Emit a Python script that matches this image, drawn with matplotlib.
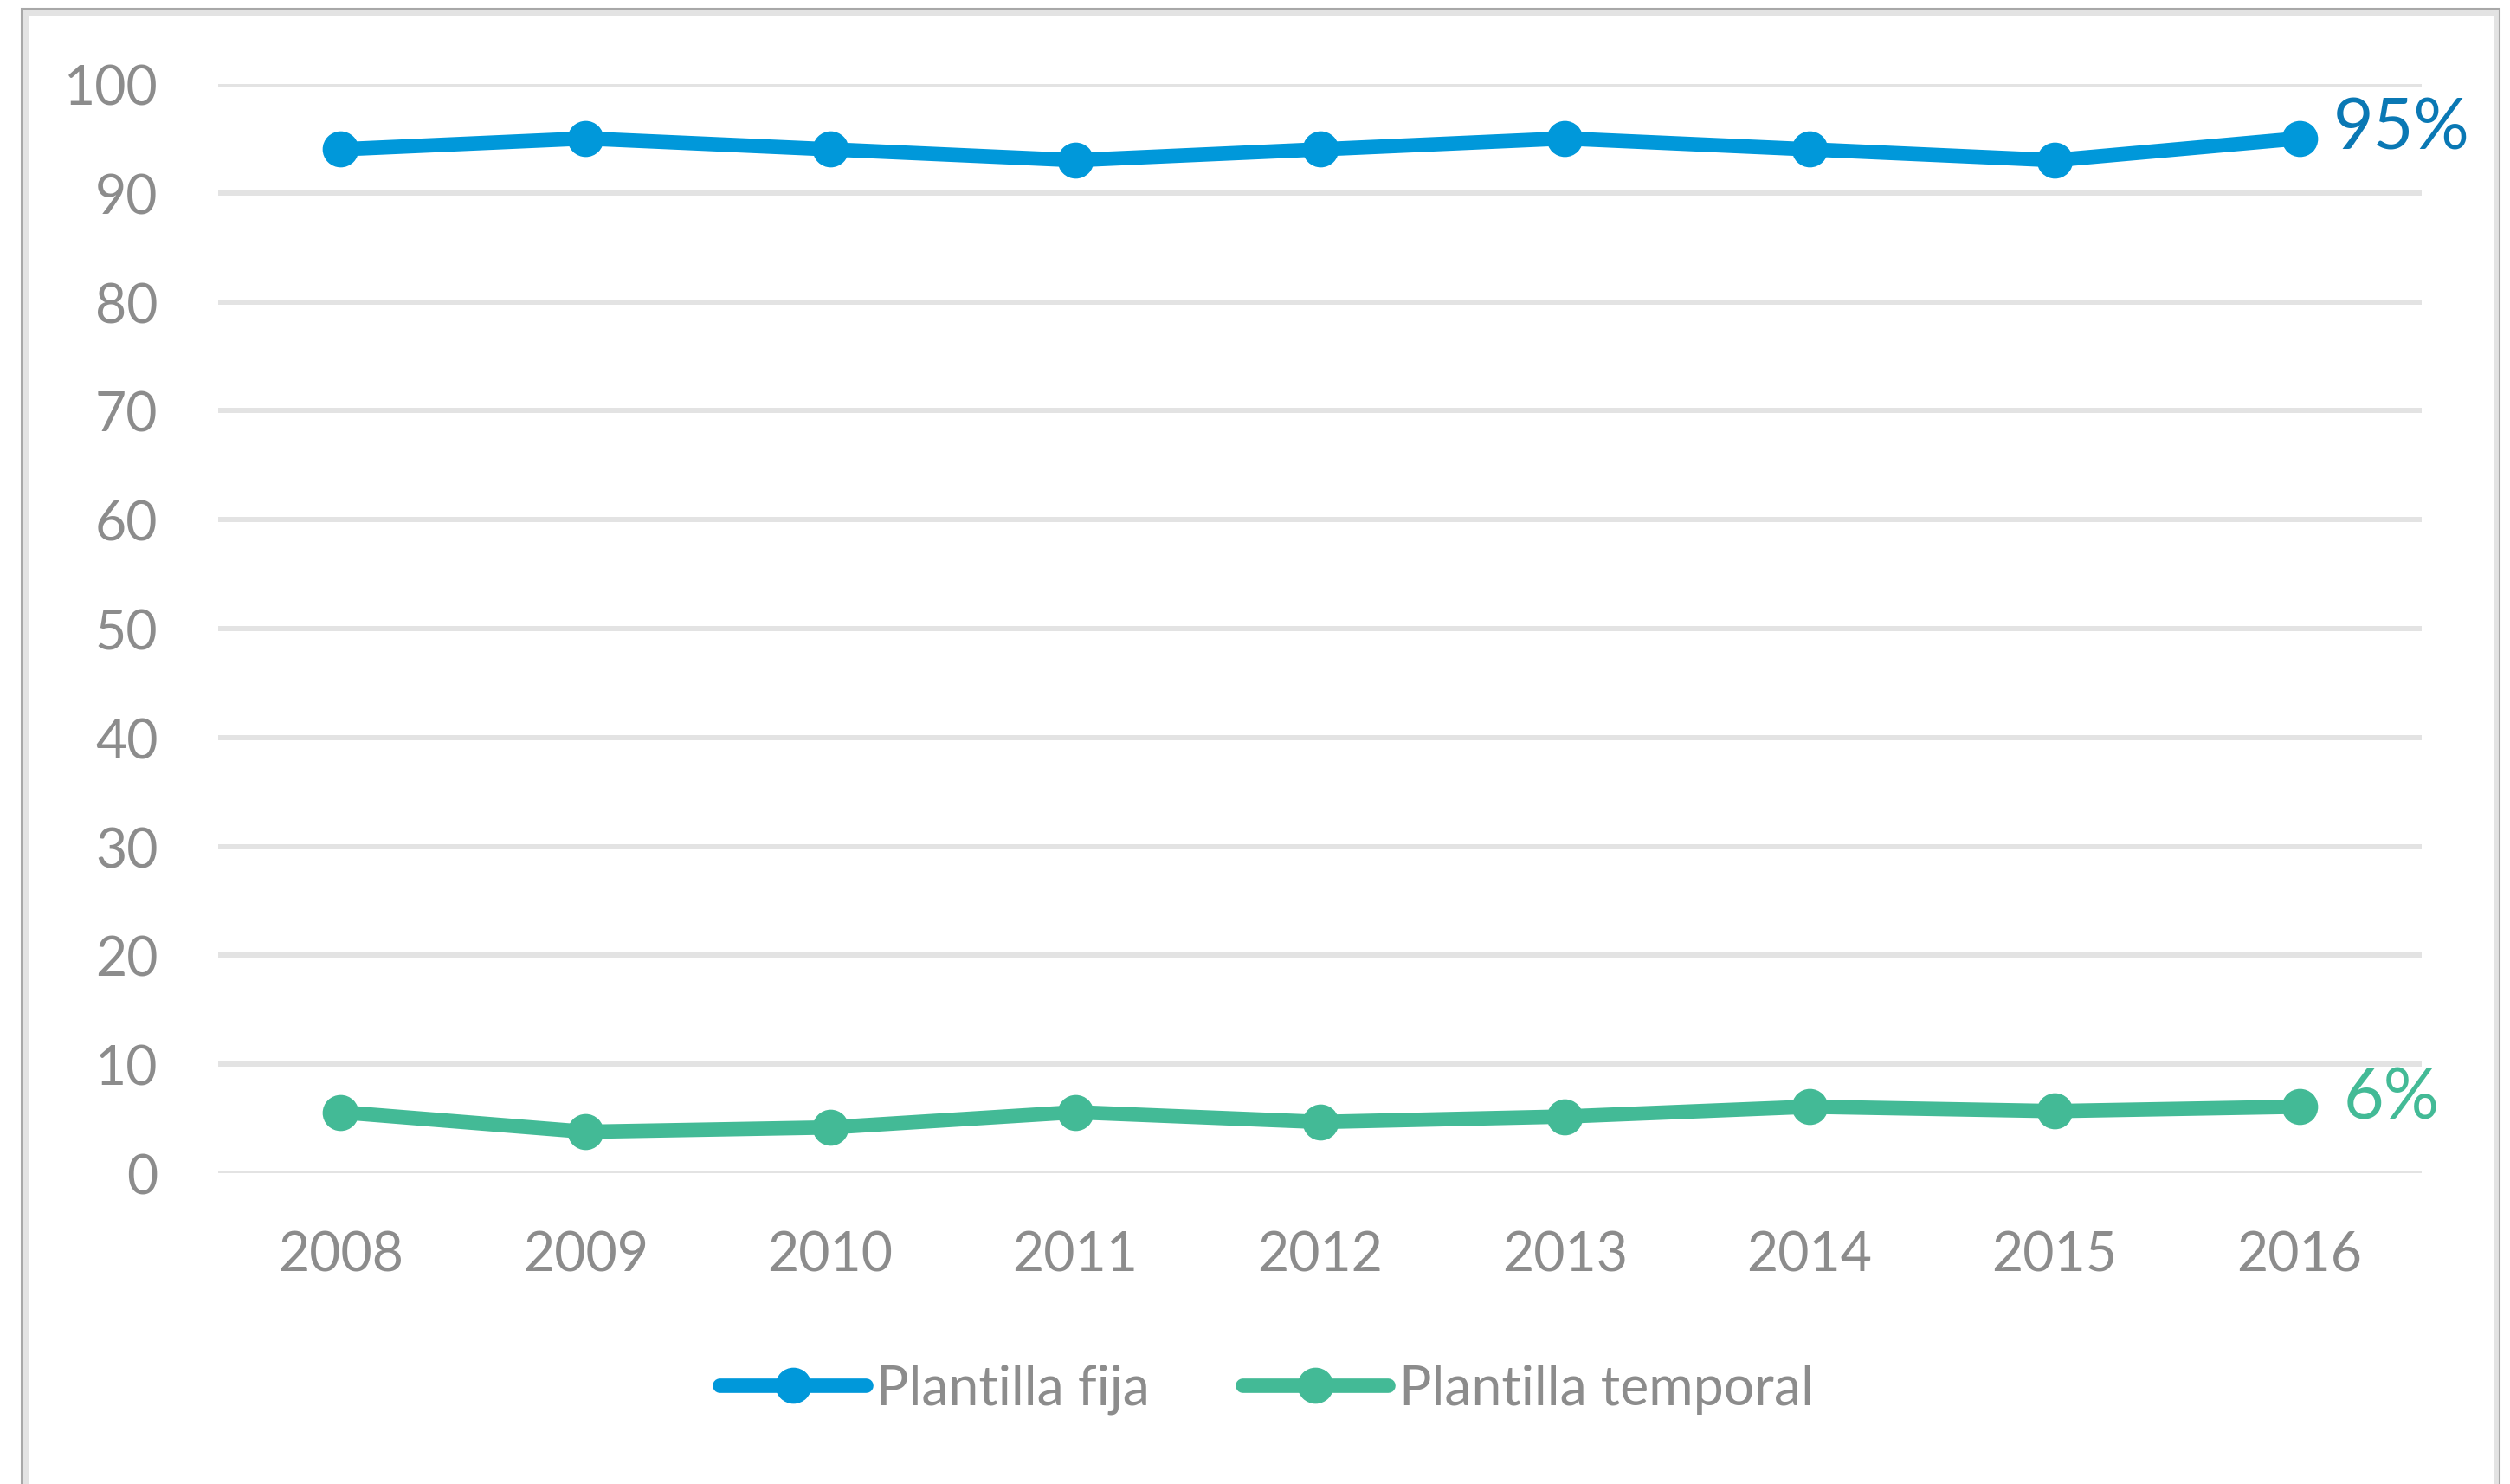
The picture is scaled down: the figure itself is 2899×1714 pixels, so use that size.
import matplotlib.pyplot as plt
from matplotlib.patches import Rectangle

years = ['2008', '2009', '2010', '2011', '2012', '2013', '2014', '2015', '2016']
fija = [94, 95, 94, 93, 94, 95, 94, 93, 95]
temporal = [5.6, 3.8, 4.2, 5.6, 4.7, 5.2, 6.1, 5.7, 6.1]

blue = '#0098DA'
blue_dark = '#0A78B4'
green = '#43BA96'
grey_txt = '#8C8C8C'

plt.rcParams['font.family'] = ['Lato', 'DejaVu Sans']

W, H = 2899, 1715
fig = plt.figure(figsize=(W / 100, H / 100), dpi=100)
ax = fig.add_axes([252 / W, 1 - 1356 / H, (2797 - 252) / W, (1356 - 98) / H])

x = list(range(len(years)))
ax.plot(x, fija, color=blue, lw=12, marker='o', ms=29, label='Plantilla fija',
        solid_capstyle='round', zorder=3)
ax.plot(x, temporal, color=green, lw=12, marker='o', ms=29, label='Plantilla temporal',
        solid_capstyle='round', zorder=3)

ax.text(x[-1] + 0.14, fija[-1] + 0.9, '95%', color=blue_dark, fontsize=58,
        va='center', ha='left', clip_on=False)
ax.text(x[-1] + 0.18, temporal[-1] + 0.8, '6%', color=green, fontsize=58,
        va='center', ha='left', clip_on=False)

ax.set_xlim(-0.5, len(years) - 0.5)
ax.set_ylim(0, 100)
ax.set_yticks(range(0, 101, 10))
ax.set_xticks(x)
ax.set_xticklabels(years)
ax.grid(axis='y', color='#E3E3E3', lw=4.3)
ax.set_axisbelow(True)
for s in ax.spines.values():
    s.set_visible(False)
ax.tick_params(length=0, labelsize=45, colors=grey_txt)
ax.tick_params(axis='y', pad=50)
ax.tick_params(axis='x', pad=47)

fig.legend(loc='center', bbox_to_anchor=(1463 / W, 1 - 1605 / H), ncol=2,
           frameon=False, fontsize=45, labelcolor=grey_txt, handlelength=2.7,
           handletextpad=0.2, columnspacing=1.7)

# outer chart frame
fig.patches.append(Rectangle((29 / W, -0.05), (2883 - 29) / W, 1.05 - 14.5 / H,
                             transform=fig.transFigure, fill=False,
                             edgecolor='#E3E3E3', lw=5))
fig.patches.append(Rectangle((25 / W, -0.05), (2887 - 25) / W, 1.05 - 11 / H,
                             transform=fig.transFigure, fill=False,
                             edgecolor='#A8A8A8', lw=1.5))

fig.savefig('out.png', dpi=100, facecolor='white')
